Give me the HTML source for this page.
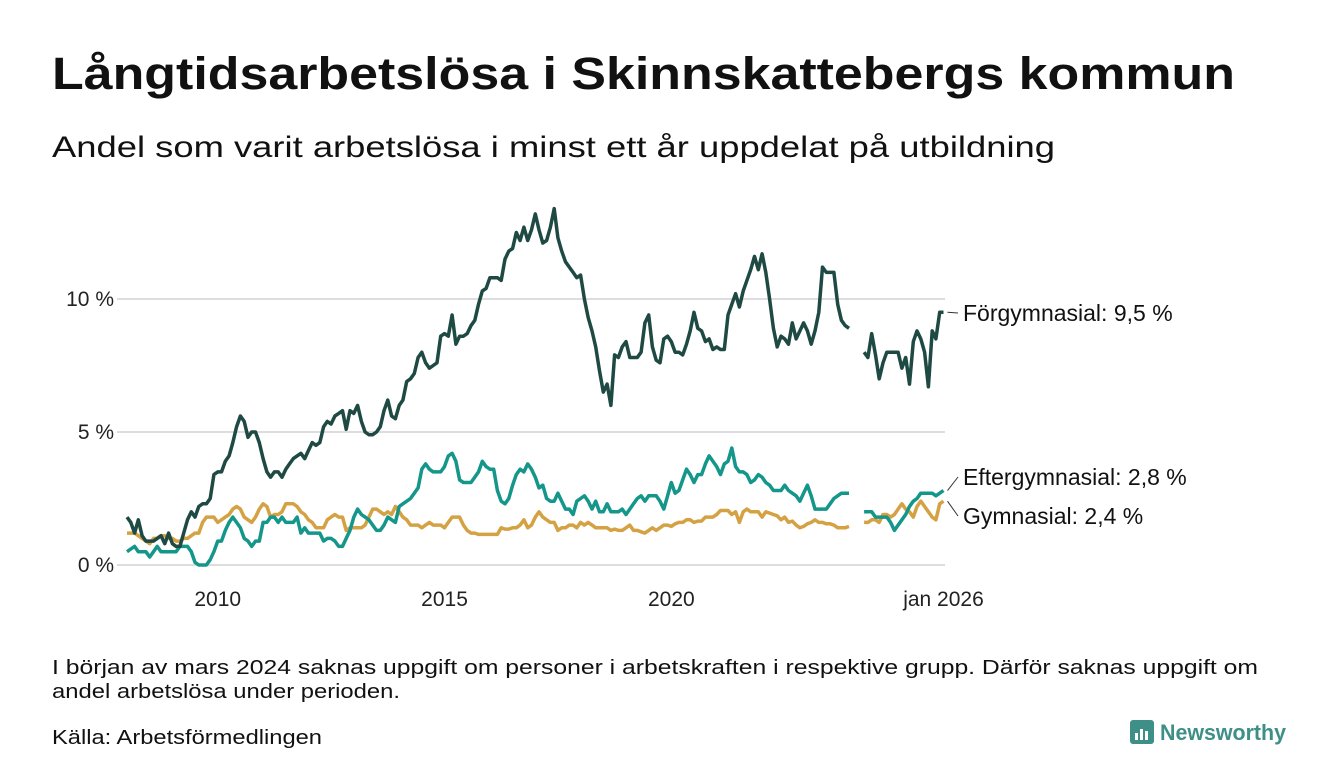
<!DOCTYPE html>
<html><head><meta charset="utf-8"><style>
html,body{margin:0;padding:0;background:#fff;}
svg{display:block;font-family:"Liberation Sans",sans-serif;}
</style></head><body>
<svg id="chart" width="1340" height="780" viewBox="0 0 1340 780">
<text x="52" y="89" font-size="45" font-weight="bold" fill="#111" textLength="1183" lengthAdjust="spacingAndGlyphs">Långtidsarbetslösa i Skinnskattebergs kommun</text>
<text x="52" y="157" font-size="30" fill="#111" textLength="1003" lengthAdjust="spacingAndGlyphs">Andel som varit arbetslösa i minst ett år uppdelat på utbildning</text>
<g id="grid"></g>
<g id="yticks"></g>
<g id="xticks"></g>
<g id="lines"></g>
<g id="labels"></g>
<text x="52" y="674" font-size="20" fill="#111" textLength="1206" lengthAdjust="spacingAndGlyphs">I början av mars 2024 saknas uppgift om personer i arbetskraften i respektive grupp. Därför saknas uppgift om</text>
<text x="52" y="698" font-size="20" fill="#111" textLength="348" lengthAdjust="spacingAndGlyphs">andel arbetslösa under perioden.</text>
<text x="52" y="744" font-size="20" fill="#111" textLength="270" lengthAdjust="spacingAndGlyphs">Källa: Arbetsförmedlingen</text>
<g>
<rect x="1130" y="720" width="24" height="24" rx="3" fill="#3d8f87"/>
<rect x="1135" y="733" width="3" height="7" fill="#fff"/><rect x="1140" y="729" width="3" height="11" fill="#fff"/><rect x="1145" y="731" width="3" height="9" fill="#fff"/>
<text x="1160" y="740" font-size="22" font-weight="bold" fill="#3d8f87" textLength="126" lengthAdjust="spacingAndGlyphs">Newsworthy</text>
</g>
</svg>
<script>
const yTicks = [0, 5, 10];
const yTickLabels = ["0 %", "5 %", "10 %"];
const xTickMonths = [24, 84, 144, 216];
const xTickLabels = ["2010", "2015", "2020", "jan 2026"];
const seriesNames = ["Förgymnasial", "Eftergymnasial", "Gymnasial"];
const lastLabels = ["Förgymnasial: 9,5 %", "Eftergymnasial: 2,8 %", "Gymnasial: 2,4 %"];
const forgym = [1.8,1.6,1.2,1.7,1.1,0.9,0.9,0.9,1.0,1.1,0.8,1.2,0.8,0.7,0.7,1.2,1.7,2.0,1.8,2.2,2.3,2.3,2.5,3.4,3.5,3.5,3.9,4.1,4.6,5.2,5.6,5.4,4.8,5.0,5.0,4.6,4.0,3.5,3.3,3.5,3.5,3.3,3.6,3.8,4.0,4.1,4.2,4.0,4.3,4.6,4.5,4.6,5.2,5.4,5.3,5.6,5.7,5.8,5.1,5.8,5.7,6.0,5.4,5.0,4.9,4.9,5.0,5.2,5.8,6.2,5.6,5.5,6.0,6.2,6.9,7.0,7.2,7.8,8.0,7.6,7.4,7.5,7.6,8.6,8.7,8.6,9.4,8.3,8.6,8.6,8.7,9.0,9.2,9.8,10.3,10.4,10.8,10.8,10.8,10.7,11.5,11.8,11.9,12.5,12.2,12.7,12.2,12.6,13.2,12.6,12.1,12.2,12.7,13.4,12.3,11.8,11.4,11.2,11.0,10.8,10.9,10.0,9.3,8.8,8.2,7.3,6.5,6.8,6.0,7.9,7.8,8.2,8.4,7.8,7.8,7.8,8.0,9.1,9.4,8.2,7.7,7.6,8.5,8.6,8.4,8.0,8.0,7.9,8.3,8.8,9.5,8.9,8.8,8.4,8.5,8.1,8.2,8.1,8.1,9.4,9.8,10.2,9.7,10.3,10.7,11.1,11.6,11.1,11.7,11.0,10.0,8.9,8.2,8.6,8.5,8.3,9.1,8.5,8.8,9.1,8.8,8.3,8.8,9.5,11.2,11.0,11.0,11.0,9.8,9.2,9.0,8.9,null,null,null,8.0,7.8,8.7,7.9,7.0,7.6,8.0,8.0,8.0,8.0,7.4,7.8,6.8,8.4,8.8,8.5,8.0,6.7,8.8,8.5,9.5,9.5];
const eftergym = [0.5,0.6,0.7,0.5,0.5,0.5,0.3,0.5,0.7,0.5,0.5,0.5,0.5,0.5,0.7,0.7,0.7,0.5,0.1,0.0,0.0,0.0,0.2,0.5,0.9,0.9,1.3,1.6,1.8,1.6,1.4,1.0,0.9,0.7,0.9,0.9,1.6,1.6,1.8,1.8,1.6,1.8,1.6,1.6,1.6,1.8,1.2,1.4,1.2,1.2,1.2,1.2,0.9,1.0,1.0,0.9,0.7,0.7,1.0,1.3,1.8,2.1,1.9,1.8,1.7,1.5,1.3,1.3,1.5,1.8,1.7,1.6,2.2,2.3,2.4,2.5,2.7,2.9,3.6,3.8,3.6,3.5,3.5,3.5,3.7,4.1,4.2,3.9,3.2,3.1,3.1,3.1,3.3,3.5,3.9,3.7,3.6,3.6,2.8,2.4,2.3,2.5,3.0,3.4,3.6,3.5,3.8,3.6,3.3,2.9,3.0,2.5,2.4,2.4,2.7,2.4,2.1,2.1,1.9,2.4,2.5,2.6,2.4,2.1,2.4,2.0,2.0,2.3,2.0,2.0,2.0,2.1,1.9,2.1,2.3,2.5,2.6,2.4,2.6,2.6,2.6,2.4,2.1,2.6,3.1,2.7,2.8,3.2,3.6,3.4,3.1,3.4,3.4,3.8,4.1,3.9,3.7,3.4,3.8,3.9,4.4,3.7,3.5,3.5,3.4,3.1,3.2,3.4,3.3,3.1,3.0,2.8,2.8,2.8,3.0,2.8,2.7,2.6,2.4,2.7,3.0,2.6,2.1,2.1,2.1,2.1,2.3,2.5,2.6,2.7,2.7,2.7,null,null,null,2.0,2.0,2.0,1.8,1.8,1.8,1.8,1.6,1.3,1.5,1.7,1.9,2.2,2.4,2.5,2.7,2.7,2.7,2.7,2.6,2.7,2.8];
const gym = [1.2,1.2,1.2,1.1,1.0,0.9,0.8,1.0,1.0,1.1,1.1,1.0,1.0,0.9,0.9,1.0,1.0,1.1,1.2,1.2,1.6,1.8,1.8,1.8,1.6,1.7,1.8,1.9,2.1,2.2,2.1,1.8,1.7,1.6,1.8,2.1,2.3,2.2,1.8,1.9,1.9,2.0,2.3,2.3,2.3,2.2,2.0,1.9,1.7,1.6,1.4,1.4,1.4,1.7,1.8,1.9,1.8,1.8,1.3,1.4,1.4,1.4,1.4,1.5,1.8,2.1,2.1,2.0,1.9,2.0,1.9,2.2,2.0,1.8,1.7,1.5,1.5,1.5,1.4,1.5,1.6,1.5,1.5,1.5,1.4,1.6,1.8,1.8,1.8,1.5,1.3,1.2,1.2,1.15,1.15,1.15,1.15,1.15,1.15,1.4,1.35,1.35,1.4,1.4,1.5,1.7,1.4,1.5,1.8,2.0,1.8,1.7,1.6,1.6,1.3,1.4,1.4,1.5,1.5,1.4,1.6,1.5,1.6,1.5,1.4,1.4,1.4,1.4,1.3,1.35,1.3,1.3,1.4,1.5,1.3,1.3,1.25,1.2,1.3,1.4,1.3,1.4,1.5,1.5,1.45,1.55,1.6,1.6,1.7,1.7,1.6,1.65,1.65,1.8,1.8,1.8,1.9,2.05,2.05,2.05,1.9,2.0,1.6,2.0,2.1,2.0,2.0,2.0,1.8,2.0,1.95,1.9,1.85,1.7,1.8,1.6,1.65,1.5,1.4,1.45,1.55,1.6,1.7,1.6,1.6,1.55,1.55,1.5,1.4,1.4,1.4,1.45,null,null,null,1.6,1.6,1.7,1.7,1.6,1.9,1.9,1.8,1.9,2.1,2.3,2.1,2.0,1.8,2.2,2.4,2.2,2.0,1.8,1.7,2.3,2.4];

const NS = "http://www.w3.org/2000/svg";
const X0 = 127, X1 = 943.5, Y0 = 565, PX_PER_PCT = 26.6;
const nMonths = 216;
function xScale(m){ return X0 + (X1 - X0) * m / nMonths; }
function yScale(v){ return Y0 - v * PX_PER_PCT; }
function mk(tag, attrs, parent){ const e = document.createElementNS(NS, tag); for (const k in attrs) e.setAttribute(k, attrs[k]); parent.appendChild(e); return e; }

const grid = document.getElementById('grid'), yt = document.getElementById('yticks'), xt = document.getElementById('xticks');
yTicks.forEach((t, i) => {
  const l = mk('line', {x1: 117, x2: 945, y1: yScale(t), y2: yScale(t), stroke: '#dddde0', 'stroke-width': 2}, grid);
  
  
  const tx = mk('text', {x: 114, y: yScale(t) + 7, 'text-anchor': 'end', 'font-size': 21, fill: '#222'}, yt);
  tx.textContent = yTickLabels[i];
  
  
});
xTickMonths.forEach((m, i) => {
  const tx = mk('text', {x: xScale(m), y: 606, 'text-anchor': 'middle', 'font-size': 21, fill: '#222'}, xt);
  tx.textContent = xTickLabels[i];
  
  
});

const colors = ['#1f4a44', '#14968a', '#d4a243'];
const allSeries = [forgym, eftergym, gym];
const linesG = document.getElementById('lines');
[2, 1, 0].forEach(si => {
  const data = allSeries[si];
  let d = '', pen = false;
  data.forEach((v, m) => {
    if (v === null) { pen = false; return; }
    d += (pen ? 'L' : 'M') + xScale(m).toFixed(1) + ',' + yScale(v).toFixed(1);
    pen = true;
  });
  const p = mk('path', {d: d, fill: 'none', stroke: colors[si], 'stroke-width': 3.5, 'stroke-linejoin': 'round'}, linesG);
  
  
});

const labG = document.getElementById('labels');
const labelY = [313, 477, 516];
allSeries.forEach((data, si) => {
  const last = data[data.length - 1];
  const ly = labelY[si];
  const c = mk('line', {x1: xScale(nMonths) + 4, y1: yScale(last), x2: 958, y2: ly, stroke: '#333', 'stroke-width': 1}, labG);
  
  
  const t = mk('text', {x: 963, y: ly + 8, 'font-size': 23, fill: '#111'}, labG);
  t.textContent = lastLabels[si];
  
  
});
</script>
</body></html>
